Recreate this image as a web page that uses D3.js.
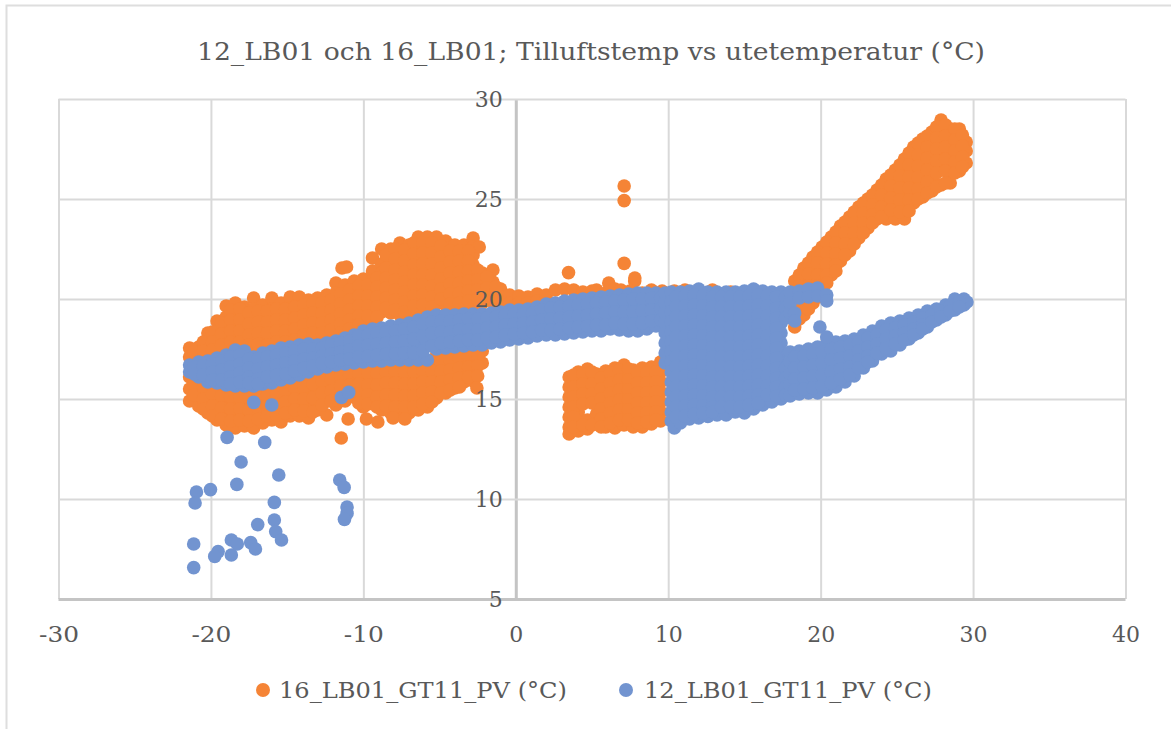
<!DOCTYPE html>
<html><head><meta charset="utf-8"><title>Tilluftstemp</title>
<script src="https://cdnjs.cloudflare.com/ajax/libs/d3/7.8.5/d3.min.js"></script>
<style>html,body{margin:0;padding:0;background:#fff}svg{display:block}text{font-family:"DejaVu Serif",serif;fill:#595959}</style>
</head><body><svg id="c" width="1171" height="729"></svg>
<script>
const titleText = "12_LB01 och 16_LB01; Tilluftstemp vs utetemperatur (°C)";
const seriesNames = ["16_LB01_GT11_PV (°C)", "12_LB01_GT11_PV (°C)"];
const seriesColors = ["#F58436", "#7294D0"];
const xTicks = [-30,-20,-10,0,10,20,30,40];
const yTicks = [5,10,15,20,25,30];

// each row: [x, y, y, y ...]
const orangeUpperLeft = [
[-21.4,17.55,17.1],[-20.8,17.6,17.2],[-20.2,18.3,17.8,17.3],[-19.6,18.9,18.4,17.9,17.4],
[-19,19.65,19.1,18.55,18,17.5],[-18.4,19.8,19.25,18.7,18.15,17.6],[-17.8,19.6,19.05,18.5,17.95,17.5],
[-17.2,20.05,19.5,18.95,18.4,17.85,17.4],[-16.6,19.7,19.15,18.6,18.05,17.5],[-16,20.05,19.5,18.95,18.4,17.85,17.4],
[-15.4,19.8,19.25,18.7,18.15,17.6],[-14.8,20.1,19.55,19,18.45,17.9],[-14.2,20.1,19.6,19.1,18.6,18.1,17.7],
[-13.6,19.95,19.45,18.95,18.45,17.95],[-13,20.05,19.55,19.05,18.55,18.05],[-12.4,20.2,19.7,19.2,18.7,18.2],
[-11.8,20.8,20.3,19.75,19.25,18.75,18.2],[-11.4,21.55],[-11.1,21.6],[-11.2,20.7,20.2,19.7,19.2,18.7,18.2],
[-10.6,20.9,20.4,19.9,19.4,18.9,18.4],[-10,21,20.5,20,19.5,19,18.6],[-9.4,22.05,21.4,20.9,20.4,19.9,19.4,18.9],
[-8.8,22.5,21.75,21.3,20.85,20.35,19.85,19.35],[-8.2,22.5,21.9,21.35,20.8,20.3,19.8,19.3],
[-7.6,22.8,22.3,21.75,21.2,20.7,20.2,19.7,19.2],[-7,22.7,22.1,21.5,21,20.5,20,19.5,19],
[-6.4,23.1,22.55,22,21.45,20.9,20.4,19.9,19.4],[-5.8,23.1,22.6,22.05,21.5,21,20.5,20,19.5],
[-5.2,23.1,22.5,21.95,21.4,20.85,20.3,19.75],[-4.6,22.9,22.35,21.8,21.25,20.7,20.2,19.7],
[-4,22.7,22.15,21.6,21.05,20.5,20,19.6],[-3.4,22.7,22.2,21.65,21.1,20.55,20.05,19.6],
[-2.8,23.05,22.6,22.2,21.7,21.2,20.7,20.2,19.7],[-2.4,22.6],[-2.2,21.3,20.8,20.3,19.8],[-1.5,21.45,20.85,20.35,19.85],[-1,20.5,20.1,19.8]
];
const orangeUpperDense = [
[-21.1,17.35],[-20.5,17.85,17.4],[-19.9,18.35,17.85,17.45],[-19.3,18.8,18.25,17.7],[-18.7,19.45,18.95,18.4,17.85],[-18.1,19.5,18.95,18.4,17.85],
[-17.5,19.3,18.75,18.2,17.7],[-16.9,19.4,18.85,18.3,17.75],[-16.3,19.4,18.85,18.3,17.7],[-15.7,19.5,18.95,18.4,17.85],
[-15.1,19.5,18.95,18.4,17.85],[-14.5,19.6,19.05,18.5,17.95],[-13.9,19.7,19.2,18.7,18.2],[-13.3,19.8,19.3,18.8,18.3],
[-12.7,19.8,19.3,18.8,18.3],[-12.1,19.95,19.45,18.95,18.45],[-11.5,20.25,19.75,19.25,18.75,18.3],[-10.9,20.45,19.95,19.45,18.95,18.5],
[-10.3,20.65,20.15,19.65,19.15,18.7],[-9.7,20.7,20.15,19.65,19.15],[-9.1,21.05,20.6,20.1,19.6,19.1],[-8.5,22.2,21.55,21.05,20.55,20.05,19.55],
[-7.9,22.5,22,21.45,20.95,20.45,19.95,19.45],[-7.3,22.45,21.9,21.35,20.85,20.35,19.85,19.35],[-6.7,22.8,22.25,21.7,21.2,20.7,20.15,19.65],
[-6.1,22.8,22.3,21.75,21.2,20.7,20.2,19.7],[-5.5,22.8,22.3,21.75,21.2,20.65,20.1,19.6],[-4.9,22.65,22.1,21.55,21,20.5,20],
[-4.3,22.4,21.85,21.3,20.75,20.25,19.75],[-3.7,22.4,21.9,21.35,20.8,20.3,19.8],[-3.1,22.4,21.9,21.4,20.9,20.4,19.9],
[-2.5,21.45,20.95,20.45,19.95],[-1.9,21.1,20.55,20.05],[-1.3,20.6,20.1]
];
const orangeLowerLeft = [
[-21.4,16.1,15.5,14.9],[-20.8,15.9,15.3,14.65],[-20.2,15.6,14.95,14.3],[-19.6,15.5,14.9,14.4,13.95],
[-19,15.4,14.85,14.25,13.7],[-18.4,15.35,14.8,14.2,13.55],[-17.8,15.3,14.75,14.2,13.65],[-17.2,15.35,14.75,14.15,13.55],
[-16.6,15.4,14.85,14.3,13.8],[-16,15.5,14.95,14.45,13.95],[-15.4,15.6,15,14.4,13.85],[-14.8,15.75,15.2,14.65,14.15],
[-14.2,15.85,15.3,14.7,14.15],[-13.6,16.05,15.4,14.7,14.05],[-13,16.2,15.6,15,14.45],[-12.4,16.3,15.6,14.9,14.2],
[-11.8,16.4,15.9,15.3,14.7],[-11.2,16.45,15.9,15.4,14.9],[-10.6,16.5,16,15.5,15.1],[-10,16.5,16,15.5,15,14.6],
[-9.4,16.6,16,15.4,14.8],[-8.8,16.6,16.05,15.5,14.95,14.45],[-8.2,16.65,16.1,15.5,14.9,14.3],
[-7.6,16.65,16.1,15.5,14.9,14.35],[-7,16.65,16.05,15.45,14.85,14.3],[-6.4,16.65,16.1,15.55,15,14.45],
[-5.8,16.7,16.15,15.6,15.05,14.6],[-5.2,17.2,16.65,16.1,15.55,15.05],[-4.6,17.2,16.7,16.15,15.65,15.3],
[-4,17.3,16.8,16.3,15.8,15.55],[-3.4,17.35,16.85,16.35,15.85],[-2.8,17.4,16.9,16.4,15.9],[-2.2,17.4,16.8]
];
const orangeLowerDense = [
[-21.1,15.7,15.2],[-20.5,15.6,15,14.5],[-19.9,15.25,14.65,14.15],[-19.3,15.15,14.55,14],[-18.7,15.1,14.5,13.9],[-18.1,15.05,14.5,13.95],
[-17.5,15.05,14.45,13.9],[-16.9,15.1,14.55,14],[-16.3,15.2,14.65,14.15],[-15.7,15.25,14.7,14.2],[-15.1,15.4,14.85,14.3],[-14.5,15.55,15,14.45],
[-13.9,15.6,15,14.4],[-13.3,15.75,15.05,14.35],[-12.7,15.9,15.3,14.7],[-12.1,16,15.4,14.9],[-11.5,16.15,15.65,15.1],[-10.9,16.2,15.7,15.2],
[-10.3,16.25,15.75,15.25,14.8],[-9.7,16.3,15.7,15.2,14.75],[-9.1,16.3,15.7,15.1,14.6],[-8.5,16.35,15.8,15.2,14.65],[-7.9,16.4,15.8,15.2,14.6],
[-7.3,16.35,15.75,15.15,14.6],[-6.7,16.35,15.75,15.15,14.6],[-6.1,16.4,15.85,15.3,14.75],[-5.5,16.4,15.85,15.35,14.85],[-4.9,16.9,16.4,15.85,15.3],
[-4.3,16.95,16.45,15.95,15.45],[-3.7,17.05,16.55,16.05,15.6],[-3.1,17.1,16.6,16.1],[-2.5,17.15,16.65,16.15]
];
const orangeRidge = [
[-0.4,20.2,19.8],[0.2,20.15,19.8],[0.8,20.1,19.8],[1.4,20.25,19.9],[2,20.2],[2.6,20.45],[3.2,20.5],[3.8,20.45],[4.4,20.35],
[5,20.4],[5.3,20.45],[5.9,20.3],[6.1,20.8],[6.5,20.5],[6.9,20.45],[7.5,20.4],[7.8,20.9],[8.3,20.3],[8.9,20.45],[9.6,20.4],
[10.4,20.4],[11.1,20.45],[12.9,20.45],[14.1,20.35]
];
const orangeBlock = [
[3.5,16.1,15.6,15.1,14.6,14.1,13.6,13.25],[4.1,16.35,15.85,15.35,14.85,14.35,13.85,13.4],[4.7,16.5,16,15.5,15,13.95,13.5],
[5.3,16.25,15.75,15.25,14.75,14.25,13.75],[5.9,16.4,15.9,15.4,14.9,14.4,13.9,13.6],[6.5,16.55,16.05,15.55,15.05,14.55,14.05,13.55],
[7.1,16.7,16.2,15.7,15.2,14.7,14.2,13.7],[7.7,16.45,15.95,15.45,14.95,14.45,13.95,13.6],[8.3,16.55,16.05,15.55,15.05,14.55,14.05,13.6],
[8.9,16.6,16.1,15.6,15.1,14.6,14.1,13.75],[9.5,16.85,16.35,15.85,15.35,14.85,14.35,13.9],
[3.8,16.2,15.6,15.1,14.6,14.1,13.6],[4.4,16.25,15.75,15.25,14.75,13.7],[5,16.35,15.75,15.25,14.8,13.7],[5.6,16.05,15.5,15,14.5,14,13.6],
[6.2,16.3,15.8,15.3,14.8,14.3,13.8],[6.8,16.45,15.95,15.45,14.95,14.45,13.95],[7.4,16.5,15.95,15.45,14.95,14.45,13.95],
[8,16.3,15.8,15.3,14.8,14.3,13.8],[8.6,16.3,15.8,15.3,14.8,14.3,13.85],[9.2,16.35,15.85,15.35,14.85,14.35,13.95]
];
const orangeDiagonal = [
[18.3,20.9,20.4,19.9,19.4,18.9,18.6],[18.9,21.55,21,20.45,19.9,19.2],[19.5,22.1,21.5,20.9,20.35,19.8],[20.1,22.6,22.05,21.5,20.95,20.4],
[20.7,23.1,22.55,22,21.45,21.2],[21.3,23.65,23.1,22.55,21.9],[21.9,24.1,23.55,23,22.4],[22.5,24.6,24.1,23.55,23.05],
[23.1,25,24.45,23.95,23.55],[23.7,25.45,24.95,24.45,24],[24.3,26,25.4,24.8,24.2,24],[24.9,26.45,25.9,25.3,24.7,24],
[25.5,27,26.4,25.8,25.2,24.6,24],[26.1,27.6,27,26.4,25.9,25.3,24.8],[26.7,28,27.45,26.9,26.3,25.7,25.1],
[27.3,28.35,27.8,27.2,26.6,26,25.4],[27.9,28.95,28.35,27.75,27.15,26.5,25.7],[28.5,28.5,27.95,27.4,26.8,26.3,25.8],
[29.1,28.5,27.95,27.4,26.9,26.4],[29.55,27.85,27.4,26.8]
];
const orangeDiagonalDense = [
[18.6,21.2,20.65,20.15,19.6,19],[19.2,21.8,21.25,20.65,20.1,19.5],[19.8,22.35,21.8,21.2,20.65,20.1],[20.4,22.85,22.3,21.75,21.2,20.8],
[21,23.35,22.8,22.25,21.7,21.4],[21.6,23.85,23.3,22.75,22.2],[22.2,24.35,23.8,23.3,22.75],[22.8,24.8,24.3,23.8,23.3],[23.4,25.2,24.7,24.2,23.8],
[24,25.7,25.2,24.6,24.1],[24.6,26.2,25.65,25.05,24.45],[25.2,26.7,26.15,25.55,24.95,24.35],[25.8,27.3,26.7,26.1,25.55,24.95,24.4],
[26.4,27.8,27.2,26.65,26.1,25.5,25],[27,28.15,27.6,27.05,26.45,25.85,25.3],[27.6,28.6,28.05,27.5,26.9,26.3,25.6],[28.2,28.7,28.15,27.6,27,26.4,25.8],
[28.8,28.5,27.95,27.4,26.85,26.3],[29.3,28.2,27.65,27.1,26.6]
];
const orangeOutliers = [
[7.11,25.65],[7.11,24.92],[7.11,21.78],[3.46,21.32],[7.81,21.05],[-11.45,13.05],[-11,14],[-9.8,14],[-9.05,13.85],
[-8.05,14.05],[-7.28,14],[-2.55,15.55]
];
const blueBand = [
[-21.4,16.7,16.35],[-20.8,16.85,16.45,16.1],[-20.2,16.9,16.4,15.85],[-19.6,17.05,16.6,16.2,15.8],[-19,17.2,16.7,16.2,15.7],
[-18.4,17.45,17,16.5,16.1,15.65],[-17.8,17.4,16.95,16.5,16.05,15.65],[-17.2,17.1,16.7,16.2,15.65],[-16.6,17.3,16.8,16.3,15.75],
[-16,17.4,16.9,16.35,15.8],[-15.4,17.55,17,16.5,15.95],[-14.8,17.6,17.1,16.55,16.05],[-14.2,17.7,17.2,16.7,16.2],
[-13.6,17.75,17.3,16.8,16.35],[-13,17.7,17.25,16.9,16.5],[-12.4,17.8,17.35,16.95,16.6],[-11.8,17.9,17.45,17.05,16.7],
[-11.2,18.05,17.6,17.15,16.75],[-10.6,18.2,17.7,17.25,16.8],[-10,18.4,17.9,17.35,16.85],[-9.4,18.5,18,17.45,16.9],
[-8.8,18.55,18.05,17.5,16.9],[-8.2,18.65,18.1,17.5,16.95],[-7.6,18.7,18.15,17.55,16.95],[-7,18.8,18.2,17.6,16.95],
[-6.4,18.95,18.4,17.7,16.95],[-5.8,19.1,18.5,17.8,16.95],[-5.2,19.2,18.6,18,17.5],[-4.6,19.2,18.7,18.1,17.55],
[-4,19.2,18.6,18.05,17.6],[-3.4,19.25,18.7,18.2,17.65],[-2.8,19.25,18.75,18.2,17.7],[-2.2,19.25,18.7,18.2,17.7],
[-1.6,19.3,18.8,18.3,17.8],[-1,19.35,18.85,18.35,17.85],[-0.4,19.45,18.95,18.45,17.95],[0.2,19.45,19,18.5,18],
[0.8,19.5,19.05,18.55,18.05],[1.4,19.6,19.1,18.6,18.15],[2,19.75,19.25,18.7,18.2],[2.6,19.8,19.3,18.75,18.2],
[3.2,19.9,19.35,18.8,18.25],[3.8,19.95,19.4,18.85,18.3],[4.4,20,19.45,18.9,18.35],[5,20.05,19.5,18.95,18.4],
[5.6,20.1,19.55,18.95,18.4],[6.2,20.15,19.6,19.05,18.5],[6.8,20.2,19.65,19.05,18.45],[7.4,20.25,19.65,19,18.4],
[8,20.3,19.7,19.05,18.4],[8.6,20.3,19.75,19.1,18.5],[9.2,20.3,19.8,19.2,18.65]
];
const blueBandDense = [
[-21.1,16.6,16.25],[-20.5,16.65,16.2],[-19.9,16.75,16.35,15.95],[-19.3,16.9,16.45,15.95],[-18.7,17.1,16.6,16.1,15.75],[-18.1,17.2,16.75,16.3,15.85],
[-17.5,17,16.55,16.1,15.8],[-16.9,17,16.5,16,15.75],[-16.3,17.1,16.6,16.1],[-15.7,17.2,16.7,16.2],[-15.1,17.3,16.8,16.25],[-14.5,17.4,16.9,16.4],
[-13.9,17.5,17,16.55],[-13.3,17.5,17.05,16.65],[-12.7,17.55,17.15,16.8],[-12.1,17.7,17.25,16.85],[-11.5,17.8,17.35,16.95],[-10.9,17.9,17.45,17],
[-10.3,18.15,17.65,17.1],[-9.7,18.2,17.7,17.15],[-9.1,18.3,17.75,17.2],[-8.5,18.35,17.8,17.25],[-7.9,18.4,17.85,17.25],[-7.3,18.5,17.9,17.3],
[-6.7,18.6,18,17.3],[-6.1,18.75,18.15,17.4],[-5.5,18.85,18.3,17.65],[-4.9,18.9,18.35,17.8],[-4.3,18.9,18.35,17.85],[-3.7,18.95,18.45,17.9],
[-3.1,19,18.45,17.95],[-2.5,19,18.45,17.95],[-1.9,19.05,18.55,18.05],[-1.3,19.1,18.6,18.1],[-0.7,19.2,18.7,18.2],[-0.1,19.25,18.75,18.25],
[0.5,19.25,18.8,18.3],[1.1,19.3,18.85,18.35],[1.7,19.45,18.95,18.45],[2.3,19.55,19,18.45],[2.9,19.6,19.05,18.5],[3.5,19.65,19.1,18.55],
[4.1,19.7,19.15,18.6],[4.7,19.75,19.2,18.65],[5.3,19.8,19.25,18.7],[5.9,19.85,19.3,18.7],[6.5,19.9,19.35,18.8],[7.1,19.95,19.35,18.75],
[7.7,20,19.35,18.75],[8.3,20,19.4,18.8],[8.9,20.05,19.45,18.9],[9.5,20.05,19.5,18.95]
];
const blueBlock = [
[9.8,20.3,19.8,19.3,18.8,18.3,17.8,17.3,16.8],
[10.2,20.35,19.85,19.35,18.85,18.35,17.85,17.35,16.85,16.35,15.85,15.35,14.85,14.35,13.9],
[10.4,13.55],
[10.8,20.35,19.8,19.3,18.8,18.3,17.8,17.3,16.8,16.3,15.8,15.3,14.8,14.3,13.8],
[11.4,20.4,19.9,19.4,18.9,18.4,17.9,17.4,16.9,16.4,15.9,15.4,14.9,14.4,14],
[12,20.5,20,19.5,19,18.5,18,17.5,17,16.5,16,15.5,15,14.5,14.05],
[12.6,20.35,19.8,19.3,18.8,18.3,17.8,17.3,16.8,16.3,15.8,15.3,14.8,14.3,14.13],
[13.2,20.35,19.85,19.35,18.85,18.35,17.85,17.35,16.85,16.35,15.85,15.35,14.85,14.2],
[13.8,20.35,19.8,19.3,18.8,18.3,17.8,17.3,16.8,16.3,15.8,15.3,14.8,14.2],
[14.4,20.35,19.85,19.35,18.85,18.35,17.85,17.35,16.85,16.35,15.85,15.35,14.85,14.35],
[15,20.4,19.9,19.4,18.9,18.4,17.9,17.4,16.9,16.4,15.9,15.4,14.9,14.3],
[15.6,20.5,20,19.5,19,18.5,18,17.5,17,16.5,16,15.5,15,14.5],
[16.2,20.4,19.9,19.4,18.9,18.4,17.9,17.4,16.9,16.4,15.9,15.4,15.1,14.7],
[16.8,20.35,19.85,19.35,18.85,18.35,17.85,17.35,16.85,16.35,15.85,15.35,14.85],
[17.4,20.35,19.8,19.3,18.8,18.3,17.8,17.3,16.8,16.3,15.8,15.35,15]
];
const blueBlockDense = [
[10.5,20.1,19.6,19.1,18.6,18.1,17.6,17.1,16.6,16.1,15.6,15.1,14.6,14.1],
[11.1,20.15,19.65,19.15,18.65,18.15,17.65,17.15,16.65,16.15,15.65,15.15,14.65,14.15],
[11.7,20.2,19.7,19.2,18.7,18.2,17.7,17.2,16.7,16.2,15.7,15.2,14.7,14.25],
[12.3,20.15,19.65,19.15,18.65,18.15,17.65,17.15,16.65,16.15,15.65,15.15,14.65,14.3],
[12.9,20.1,19.6,19.1,18.6,18.1,17.6,17.1,16.6,16.1,15.6,15.1,14.6,14.35],
[13.5,20.1,19.6,19.1,18.6,18.1,17.6,17.1,16.6,16.1,15.6,15.1,14.6],
[14.1,20.1,19.6,19.1,18.6,18.1,17.6,17.1,16.6,16.1,15.6,15.1,14.6],
[14.7,20.1,19.6,19.1,18.6,18.1,17.6,17.1,16.6,16.1,15.6,15.1,14.6],
[15.3,20.15,19.65,19.15,18.65,18.15,17.65,17.15,16.65,16.15,15.65,15.15,14.7],
[15.9,20.2,19.7,19.2,18.7,18.2,17.7,17.2,16.7,16.2,15.7,15.2,14.8],
[16.5,20.15,19.65,19.15,18.65,18.15,17.65,17.15,16.65,16.15,15.65,15.2],
[17.1,20.1,19.55,19.05,18.55,18.05,17.55,17.05,16.55,16.05,15.6,15.15],
[17.7,20.1,19.55,19.05,16.55,16.05,15.6,15.2]
];
const blueArm = [
[18,20.35,19.8,19.3],[18.3,19.3,18.9],[18.6,20.4,20.05],[19.2,20.5,20.1],[19.8,20.55,20.15],[20.4,20.2,19.9]
];
const blueDiagonal = [
[18,17.35,16.85,16.25,15.7,15.15],[18.6,17.4,16.85,16.3,15.75,15.25],[19.2,17.5,16.95,16.4,15.85,15.3],[19.8,17.6,17,16.45,15.85,15.3],
[20.4,17.75,17.2,16.6,16,15.45],[21,17.85,17.3,16.75,16.15,15.6],[21.6,17.9,17.4,16.85,16.35,15.85],[22.2,18,17.55,17.05,16.6,16.15],
[22.8,18.2,17.75,17.35,16.95,16.55],[23.4,18.4,17.95,17.4,16.9],[24,18.65,18.2,17.7,17.25],[24.6,18.8,18.3,17.85,17.4],
[25.2,18.9,18.5,18.1,17.7],[25.8,19.05,18.7,18.35,18],[26.4,19.2,18.75,18.3],[27,19.4,19,18.6],[27.6,19.5,18.95],
[28.2,19.7,19.2],[28.8,20,19.7,19.45],[29.4,20,19.7],[29.6,19.85]
];
const blueDiagonalDense = [
[18.3,17.1,16.55,16,15.45],[18.9,17.15,16.6,16.05,15.5],[19.5,17.25,16.7,16.15,15.55],[20.1,17.35,16.8,16.2,15.65],[20.7,17.5,16.95,16.35,15.8],
[21.3,17.6,17.05,16.5,16],[21.9,17.7,17.15,16.6,16.2],[22.5,17.85,17.4,16.95,16.55],[23.1,18.05,17.6,17.15,16.85],[23.7,18.2,17.75,17.3],
[24.3,18.45,18,17.55],[24.9,18.55,18.15,17.75],[25.5,18.7,18.3,17.95],[26.1,18.85,18.5,18.2],[26.7,19.05,18.7,18.5],[27.3,19.2,18.85],
[27.9,19.4,19.1],[28.5,19.65,19.4],[29.1,19.85,19.6]
];
const blueOutliers = [
[-18.94,13.08],[-16.47,12.83],[-18.02,11.85],[-15.55,11.2],[-18.3,10.73],[-20.03,10.47],[-20.95,10.35],[-21.04,9.8],[-15.84,9.83],
[-11.55,10.95],[-11.26,10.58],[-11.07,9.6],[-11.07,9.28],[-11.24,8.98],[-16.93,8.72],[-15.84,8.95],[-15.75,8.37],[-15.37,7.95],
[-18.66,7.95],[-18.27,7.75],[-17.39,7.82],[-17.08,7.5],[-21.13,7.75],[-21.13,6.57],[-19.53,7.37],[-19.75,7.13],[-18.66,7.2],
[-17.19,14.83],[-16.01,14.7],[-11.44,15.08],[-10.96,15.33],[19.95,18.6],[20.4,18.1]
];

const flat = rows => rows.flatMap(([x,...ys]) => ys.map(y => ({x,y})));
const orange = [orangeUpperLeft,orangeUpperDense,orangeLowerLeft,orangeLowerDense,orangeRidge,orangeBlock,orangeDiagonal,orangeDiagonalDense,orangeOutliers].flatMap(flat);
const blue = [blueBand,blueBandDense,blueBlock,blueBlockDense,blueArm,blueDiagonal,blueDiagonalDense,blueOutliers].flatMap(flat);

const x = d3.scaleLinear().domain([-30,40]).range([58.5,1125.5]);
const y = d3.scaleLinear().domain([5,30]).range([599,99]);
const svg = d3.select("#c");
const GRID="#D9D9D9", AXIS="#C4C4C4", R=6.8;

// chart frame
svg.append("path").attr("d","M6.5,729V5.5H1171").attr("fill","none").attr("stroke","#DEDEDE").attr("stroke-width",2);

// grid
svg.append("g").attr("transform",`translate(0,${y(5)})`)
 .call(d3.axisBottom(x).tickValues(xTicks).tickSize(-(y(5)-y(30))).tickFormat(""))
 .call(g=>{g.select(".domain").remove();g.selectAll("line").attr("stroke",d=>d===0?AXIS:GRID).attr("stroke-width",d=>d===0?3:2);});
svg.append("g").attr("transform",`translate(${x(-30)},0)`)
 .call(d3.axisLeft(y).tickValues(yTicks).tickSize(-(x(40)-x(-30))).tickFormat(""))
 .call(g=>{g.select(".domain").remove();g.selectAll("line").attr("stroke",d=>d===5?AXIS:GRID).attr("stroke-width",d=>d===5?3:2);});

// marks
const draw=(data,c)=>svg.append("g").selectAll("circle").data(data).join("circle")
 .attr("cx",d=>x(d.x)).attr("cy",d=>y(d.y)).attr("r",R).attr("fill",c);
draw(orange,seriesColors[0]);
draw(blue,seriesColors[1]);

// tick labels (above the marks)
svg.append("g").attr("transform",`translate(0,${y(5)})`)
 .call(d3.axisBottom(x).tickValues(xTicks).tickSize(0).tickPadding(27).tickFormat(d=>String(d)))
 .call(g=>{g.select(".domain").remove();g.attr("font-family",null).attr("font-size",null);
   g.selectAll("text").style("font-size","23px").attr("fill",null).attr("textLength",function(d){return d<0?40:(d===0?14:28);}).attr("lengthAdjust","spacingAndGlyphs");});
svg.append("g").attr("transform",`translate(${x(0)},0)`)
 .call(d3.axisLeft(y).tickValues(yTicks).tickSize(0).tickPadding(13).tickFormat(d=>String(d)))
 .call(g=>{g.select(".domain").remove();g.attr("font-family",null).attr("font-size",null);
   g.selectAll("text").style("font-size","23px").attr("fill",null).attr("textLength",d=>d<10?14:28).attr("lengthAdjust","spacingAndGlyphs");});

// title
svg.append("text").attr("x",591).attr("y",60).attr("text-anchor","middle").style("font-size","25px")
 .attr("textLength",788).attr("lengthAdjust","spacingAndGlyphs").text(titleText);

// legend
[[263,279],[626,644]].forEach(([mx,tx],i)=>{
 svg.append("circle").attr("cx",mx).attr("cy",690).attr("r",7).attr("fill",seriesColors[i]);
 svg.append("text").attr("x",tx).attr("y",698).style("font-size","23px")
  .attr("textLength",288).attr("lengthAdjust","spacingAndGlyphs").text(seriesNames[i]);
});
</script></body></html>
